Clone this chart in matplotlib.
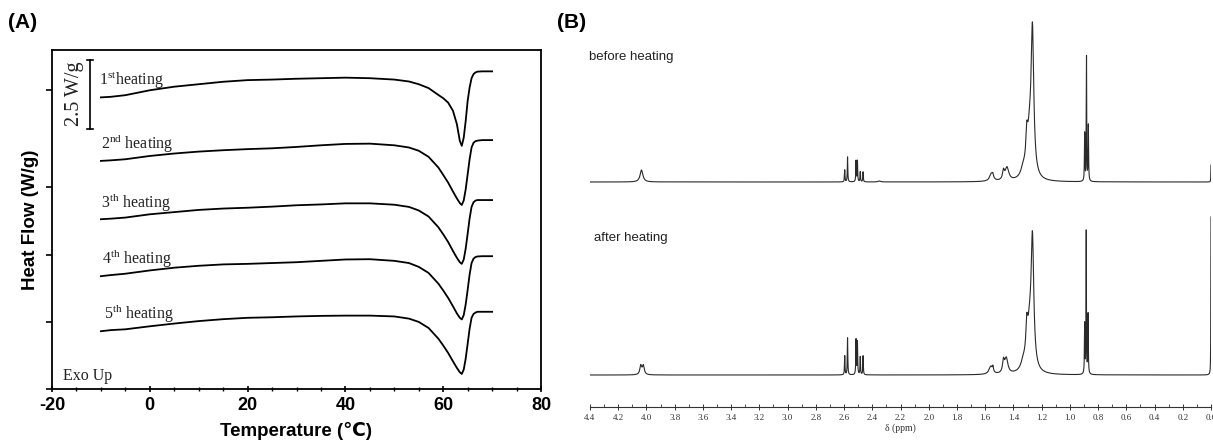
import numpy as np
import matplotlib
matplotlib.use('Agg')
from matplotlib import pyplot as plt
from matplotlib.ticker import MultipleLocator, FormatStrFormatter

plt.rcParams['mathtext.fontset'] = 'custom'
plt.rcParams['mathtext.rm'] = 'Liberation Serif'
plt.rcParams['axes.unicode_minus'] = False

# ---- panel A: DSC heating curves (W/g) ----
temp = [-10, -8, -5, 0, 5, 10, 15, 20, 25, 30, 35, 40, 45, 50, 53, 55, 57, 59, 60,
        61, 62, 62.8, 63.4, 63.8, 64.2, 64.6, 65, 65.4, 65.8, 66.2, 66.6, 67, 68, 70]
heat_1 = [10.65, 10.67, 10.73, 10.91, 11.04, 11.13, 11.22, 11.28, 11.30, 11.33, 11.35, 11.37,
          11.35, 11.30, 11.23, 11.13, 10.99, 10.74, 10.62, 10.46, 10.16, 9.67, 9.06, 8.88,
          9.18, 9.79, 10.52, 11.01, 11.35, 11.50, 11.56, 11.59, 11.60, 11.60]
heat_2 = [8.33, 8.35, 8.39, 8.51, 8.60, 8.67, 8.72, 8.76, 8.79, 8.84, 8.90, 8.95,
          8.96, 8.90, 8.82, 8.70, 8.48, 8.09, 7.82, 7.54, 7.21, 6.96, 6.79, 6.72,
          6.89, 7.29, 7.84, 8.39, 8.82, 8.99, 9.05, 9.07, 9.09, 9.09]
heat_3 = [6.20, 6.22, 6.26, 6.38, 6.46, 6.54, 6.59, 6.62, 6.66, 6.71, 6.74, 6.78,
          6.78, 6.73, 6.65, 6.52, 6.30, 5.91, 5.65, 5.37, 5.04, 4.79, 4.63, 4.57,
          4.73, 5.13, 5.67, 6.23, 6.65, 6.82, 6.88, 6.90, 6.90, 6.90]
heat_4 = [4.12, 4.16, 4.21, 4.33, 4.43, 4.50, 4.55, 4.57, 4.60, 4.63, 4.68, 4.73,
          4.74, 4.68, 4.60, 4.46, 4.24, 3.85, 3.60, 3.33, 3.02, 2.76, 2.60, 2.54,
          2.70, 3.09, 3.62, 4.18, 4.60, 4.76, 4.82, 4.84, 4.85, 4.85]
heat_5 = [2.11, 2.15, 2.18, 2.29, 2.39, 2.48, 2.55, 2.60, 2.62, 2.65, 2.67, 2.68,
          2.68, 2.65, 2.57, 2.45, 2.23, 1.84, 1.59, 1.32, 1.01, 0.77, 0.61, 0.55,
          0.71, 1.11, 1.65, 2.20, 2.60, 2.74, 2.79, 2.82, 2.82, 2.82]
heat_curves = [heat_1, heat_2, heat_3, heat_4, heat_5]
heat_labels = ['1$^{\\rm st}$heating', '2$^{\\rm nd}$ heating', '3$^{\\rm th}$ heating',
               '4$^{\\rm th}$ heating', '5$^{\\rm th}$ heating']
label_pos = [(-10.3, 11.1), (-9.9, 8.76), (-9.9, 6.6), (-9.8, 4.57), (-9.4, 2.57)]

# ---- panel B: 1H NMR peaks (ppm, height, half width) ----
before_ppm = [4.035, 2.595, 2.575, 2.515, 2.505, 2.485, 2.465, 2.35,
              1.555, 1.545, 1.47, 1.445, 1.33, 1.305, 1.285, 1.265,
              0.895, 0.882, 0.869, 0.0]
before_height = [12, 12, 25, 21, 21, 10, 10, 1,
                 8, 3, 9, 13, 8, 28, 40, 138,
                 48, 124, 56, 17]
before_width = [0.012, 0.002, 0.002, 0.002, 0.002, 0.002, 0.002, 0.01,
                0.015, 0.004, 0.008, 0.015, 0.02, 0.008, 0.02, 0.011,
                0.002, 0.0015, 0.002, 0.0012]

after_ppm = [4.04, 4.022, 2.595, 2.575, 2.515, 2.505, 2.485, 2.465,
             1.56, 1.545, 1.47, 1.45, 1.33, 1.305, 1.285, 1.265,
             0.895, 0.884, 0.871, 0.0]
after_height = [9, 9, 19, 37, 35, 33, 18, 19,
                8, 5, 12, 15, 8, 30, 40, 122,
                50, 142, 60, 158]
after_width = [0.008, 0.008, 0.002, 0.002, 0.002, 0.002, 0.002, 0.002,
               0.015, 0.004, 0.008, 0.013, 0.02, 0.008, 0.02, 0.011,
               0.002, 0.0015, 0.002, 0.0012]

ppm = np.linspace(0.0, 4.4, 20001)


def spectrum(centers, heights, widths):
    y = np.zeros_like(ppm)
    for c, h, w in zip(centers, heights, widths):
        y += h * w ** 2 / ((ppm - c) ** 2 + w ** 2)
    return y


fig = plt.figure(figsize=(12.13, 4.45), dpi=100, facecolor='white')
sans = ['Liberation Sans', 'DejaVu Sans']

# panel A
ax_a = fig.add_axes([52 / 1213, 1 - 389 / 445, (541 - 52) / 1213, (389 - 50) / 445])
for h in heat_curves:
    ax_a.plot(temp, h, color='black', lw=1.3)
for lab, (x, y) in zip(heat_labels, label_pos):
    ax_a.text(x, y, lab, family='Liberation Serif', fontsize=11.5, color='#222222', va='baseline')
ax_a.text(-17.7, 0.34, 'Exo Up', family='Liberation Serif', fontsize=11.5, color='#222222', va='baseline')

# scale bar
ax_a.plot([-12.25, -12.25], [9.51, 12.02], color='black', lw=1.2)
ax_a.plot([-12.9, -11.6], [12.02, 12.02], color='black', lw=1.2)
ax_a.plot([-12.9, -11.6], [9.51, 9.51], color='black', lw=1.2)
ax_a.text(-15.3, 10.77, '2.5 W/g', family='Liberation Serif', fontsize=14.5, color='#222222',
          rotation=90, ha='center', va='center')

ax_a.set_xlim(-20, 80)
ax_a.set_ylim(0, 12.38)
ax_a.xaxis.set_major_locator(MultipleLocator(20))
ax_a.xaxis.set_minor_locator(MultipleLocator(5))
ax_a.set_yticks([0, 2.45, 4.91, 7.39, 10.91])
ax_a.set_yticklabels([])
ax_a.tick_params(axis='x', which='major', direction='inout', length=5, width=1.2, pad=3)
ax_a.tick_params(axis='x', which='minor', direction='inout', length=3, width=1)
ax_a.tick_params(axis='y', direction='out', length=4, width=1.2)
for lab in ax_a.get_xticklabels():
    lab.set_fontfamily(sans)
    lab.set_fontweight('bold')
    lab.set_fontsize(13)
for sp in ax_a.spines.values():
    sp.set_linewidth(1.3)
ax_a.set_xlabel('Temperature (\u2103)', family=sans, fontweight='bold', fontsize=13.5, labelpad=6)
ax_a.set_ylabel('Heat Flow (W/g)', family=sans, fontweight='bold', fontsize=13.5, labelpad=2)

# panel B
ax_b = fig.add_axes([590 / 1213, 1 - 407 / 445, (1211 - 590) / 1213, (407 - 15) / 445])
ax_b.plot(ppm, spectrum(before_ppm, before_height, before_width) + 225, color='#2a2a2a', lw=0.8)
ax_b.plot(ppm, spectrum(after_ppm, after_height, after_width) + 32, color='#2a2a2a', lw=0.8)
ax_b.set_xlim(4.4, 0.0)
ax_b.set_ylim(0, 392)
for side in ['left', 'right', 'top']:
    ax_b.spines[side].set_visible(False)
ax_b.spines['bottom'].set_color('#333333')
ax_b.spines['bottom'].set_linewidth(0.8)
ax_b.set_yticks([])
ax_b.xaxis.set_major_locator(MultipleLocator(0.2))
ax_b.xaxis.set_minor_locator(MultipleLocator(0.1))
ax_b.xaxis.set_major_formatter(FormatStrFormatter('%.1f'))
ax_b.tick_params(axis='x', which='major', direction='inout', length=4, width=0.7, color='#333333',
                 labelsize=6.5, labelcolor='#333333', pad=3)
ax_b.tick_params(axis='x', which='minor', direction='in', length=2, width=0.6, color='#333333')
for lab in ax_b.get_xticklabels():
    lab.set_fontfamily('Liberation Serif')
ax_b.set_xlabel('\u03b4 (ppm)', family='Liberation Serif', fontsize=7, color='#333333', labelpad=1)
ax_b.text(4.41, 350, 'before heating', family=sans, fontsize=9.5, color='#222222', va='center')
ax_b.text(4.37, 169, 'after heating', family=sans, fontsize=9.5, color='#222222', va='center')

fig.text(8 / 1213, 1 - 22 / 445, '(A)', family=sans, fontweight='bold', fontsize=15, va='center')
fig.text(557 / 1213, 1 - 22 / 445, '(B)', family=sans, fontweight='bold', fontsize=15, va='center')

fig.savefig('out.png', dpi=100, facecolor='white')
